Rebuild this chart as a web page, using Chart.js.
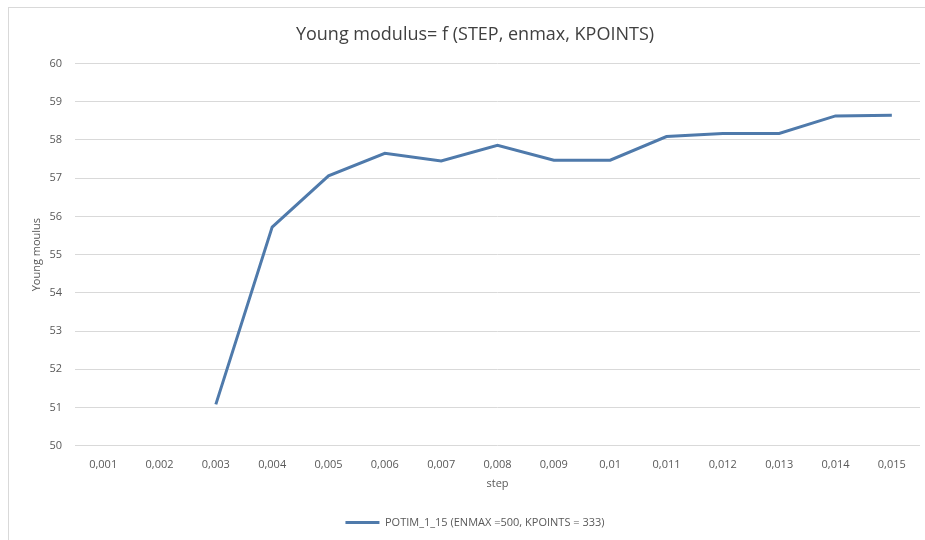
<!DOCTYPE html>
<html>
<head>
<meta charset="utf-8">
<script src="https://cdn.jsdelivr.net/npm/chart.js@4/dist/chart.umd.min.js"></script>
<style>
  html, body { margin: 0; padding: 0; background: #ffffff; }
  #wrap { position: relative; width: 925px; height: 540px; overflow: hidden; }
  #frame { position: absolute; left: 8px; top: 7px; width: 940px; height: 560px; border: 1px solid #d9d9d9; pointer-events: none; }
  canvas { position: absolute; left: 0; top: 0; }
</style>
</head>
<body>
<div id="wrap">
  <canvas id="c" width="925" height="540"></canvas>
  <div id="frame"></div>
</div>
<script>
const categories = ["0,001","0,002","0,003","0,004","0,005","0,006","0,007","0,008","0,009","0,01","0,011","0,012","0,013","0,014","0,015"];
const youngValues = [null, null, 51.08, 55.72, 57.06, 57.65, 57.45, 57.86, 57.47, 57.47, 58.09, 58.17, 58.17, 58.63, 58.65];
const seriesLabel = "POTIM_1_15 (ENMAX =500, KPOINTS = 333)";
const chartTitle = "Young modulus= f (STEP, enmax, KPOINTS)";
const yAxisTitle = "Young moulus";
const xAxisTitle = "step";

const FONT = "'Open Sans', 'Noto Sans', sans-serif";

new Chart(document.getElementById('c'), {
  type: 'line',
  data: {
    labels: categories,
    datasets: [{
      label: seriesLabel,
      data: youngValues,
      borderColor: '#4f7aab',
      backgroundColor: '#4f7aab',
      borderWidth: 3,
      pointRadius: 0,
      tension: 0,
      spanGaps: false
    }]
  },
  options: {
    responsive: false,
    animation: false,
    devicePixelRatio: 1,
    layout: { padding: { left: 30, right: 5, top: 24, bottom: 2 } },
    plugins: {
      title: {
        display: true,
        text: chartTitle,
        color: '#404040',
        font: { family: FONT, size: 18, weight: 'normal' },
        padding: { top: 0, bottom: 18 }
      },
      legend: {
        position: 'bottom',
        labels: {
          usePointStyle: true,
          pointStyle: 'line',
          pointStyleWidth: 34,
          color: '#595959',
          font: { family: FONT, size: 11 },
          padding: 10
        }
      },
      tooltip: { enabled: false }
    },
    scales: {
      x: {
        type: 'category',
        offset: true,
        grid: { display: false },
        border: { display: false },
        ticks: { color: '#595959', font: { family: FONT, size: 11 }, padding: 5, maxRotation: 0, autoSkip: false },
        title: { display: true, text: xAxisTitle, color: '#595959', font: { family: FONT, size: 11 }, padding: { top: 0, bottom: 17 } }
      },
      y: {
        min: 50,
        max: 60,
        grid: { color: '#d9d9d9', lineWidth: 1, drawTicks: false },
        border: { display: false },
        ticks: { stepSize: 1, color: '#595959', font: { family: FONT, size: 11 }, padding: 13 },
        title: { display: true, text: yAxisTitle, color: '#595959', font: { family: FONT, size: 11 }, padding: { top: 0, bottom: 0 } },
        afterFit: (scale) => { scale.width = 45; }
      }
    }
  }
});
</script>
</body>
</html>
